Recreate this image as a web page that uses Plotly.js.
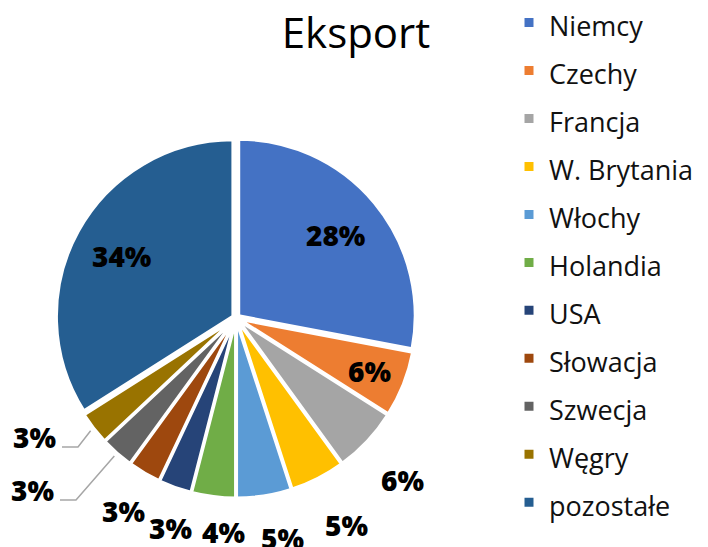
<!DOCTYPE html>
<html>
<head>
<meta charset="utf-8">
<script src="https://cdn.plot.ly/plotly-3.0.1.min.js"></script>
<style>html,body{margin:0;padding:0;background:#fff;}#chart{width:708px;height:547px;}</style>
</head>
<body>
<div id="chart"></div>
<script>
const labels = ["Niemcy", "Czechy", "Francja", "W. Brytania", "Włochy", "Holandia", "USA", "Słowacja", "Szwecja", "Węgry", "pozostałe"];
const values = [28, 6, 6, 5, 5, 4, 3, 3, 3, 3, 34];
const colors = ["#4472C4", "#ED7D31", "#A5A5A5", "#FFC000", "#5B9BD5", "#70AD47", "#264478", "#9E480E", "#636363", "#997300", "#255E91"];
const textPositions = ["inside", "inside", "outside", "outside", "outside", "outside", "outside", "outside", "leader", "leader", "inside"];

const W = 708, H = 547;
const cx = 236, cy = 318, R = 180, pull = 0.02;
// label boxes moved aside with leader lines (pixel position of label centre)
const leaderSpots = {8: [32, 490], 9: [34, 437]};
// small pixel nudges of outside labels (best-fit placement)
const labelNudge = {2: [-1, 5], 3: [8, 5], 4: [12, 2], 5: [15, -5], 6: [11, -1], 7: [3, -2]};

const px2x = p => p / W, px2y = p => 1 - p / H;

const total = values.reduce((a, b) => a + b, 0);
const annotations = [];
const shapes = [];
const labFont = {family: "Open Sans, sans-serif", size: 28, color: "#000000", weight: 800};
let cum = 0;
values.forEach((v, i) => {
  const frac = v / total;
  const th = (cum + v / 2) / total * 2 * Math.PI;
  cum += v;
  const s = Math.sin(th), c = Math.cos(th);
  const txt = Math.round(frac * 100) + "%";
  let lx, ly;
  if (textPositions[i] === "inside") {
    const d = (frac > 0.1 ? 0.72 : 0.8) * R;
    lx = cx + d * s; ly = cy - d * c;
  } else if (textPositions[i] === "outside") {
    const ext = Math.abs(s) * 21 + Math.abs(c) * 12;
    const d = R + 26 + ext;
    const n = labelNudge[i] || [0, 0];
    lx = cx + d * s + n[0]; ly = cy - d * c + n[1];
  } else {
    [lx, ly] = leaderSpots[i];
    const x0 = cx + (R + 4) * s, y0 = cy - (R + 4) * c;
    const yl = ly + 10;
    shapes.push({type: "path", xref: "paper", yref: "paper",
      path: `M${px2x(x0)},${px2y(y0)} L${px2x(lx + 44)},${px2y(yl)} L${px2x(lx + 28)},${px2y(yl)}`,
      line: {color: "#A6A6A6", width: 1.5}});
  }
  annotations.push({text: txt, x: px2x(lx), y: px2y(ly), xref: "paper", yref: "paper",
    xanchor: "center", yanchor: "middle", showarrow: false, font: labFont});
});

const trace = {
  type: "pie",
  labels: labels.map(l => '<span style="font-size:27px">' + l + '</span>'),
  values: values,
  sort: false,
  direction: "clockwise",
  rotation: 0,
  pull: pull,
  marker: {colors: colors, line: {color: "#ffffff", width: 3}},
  textinfo: "none",
  domain: {x: [(cx - R) / W, (cx + R) / W], y: [(H - cy - R) / H, (H - cy + R) / H]},
  hoverinfo: "label+percent"
};

const layout = {
  width: W, height: H,
  margin: {l: 0, r: 0, t: 0, b: 0, autoexpand: false},
  paper_bgcolor: "#ffffff",
  title: {text: "Eksport", x: 356 / W, xanchor: "center", y: 1 - 33 / H, yanchor: "middle",
          font: {family: "Open Sans, sans-serif", size: 42, color: "#000000"}},
  showlegend: true,
  legend: {x: 509 / W, xanchor: "left", y: 1 + 6.5 / H, yanchor: "top", maxheight: 700,
           font: {family: "Open Sans, sans-serif", size: 34.6, color: "#111111"},
           bgcolor: "rgba(0,0,0,0)"},
  annotations: annotations,
  shapes: shapes
};

Plotly.newPlot("chart", [trace], layout, {displayModeBar: false, staticPlot: true});
</script>
</body>
</html>
